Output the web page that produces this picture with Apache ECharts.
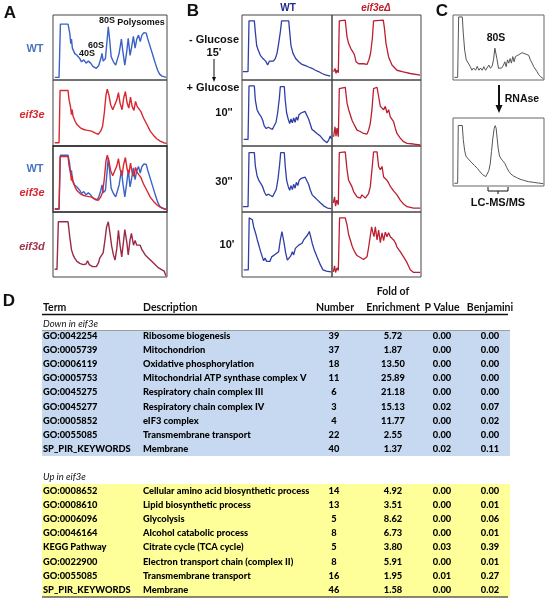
<!DOCTYPE html>
<html><head><meta charset="utf-8">
<script src="https://cdn.jsdelivr.net/npm/echarts@6/dist/echarts.min.js"></script>
<style>html,body{margin:0;padding:0;background:#fff}#c{width:549px;height:600px}</style>
</head><body><div id="c"></div>
<script>
// ---------- Panel A profiles (x: gradient position 0-100, y: A254 0-100) ----------
const A_WT = [[1.5,4],[5.3,4],[6.5,86],[13.2,86],[14.7,72],[15.6,56],[16.2,63],[17,49],[19,41],[21,38],[23.5,33],[25,28],[27,31],[29,26],[31,29],[33,26],[35,21],[38,18],[40,22],[42,33],[43,41],[44,29],[46,33],[47.5,62],[48.5,82],[49.7,62],[51,36],[53,28],[55,23],[56.5,23],[58,41],[60,63],[61.5,41],[63,23],[64.7,44],[66,64],[67.6,38],[69,51],[70.5,67],[72,49],[73.5,63],[75,69],[76.5,59],[78,69],[80,73],[81.8,72],[83,64],[85.3,51],[87.6,38],[89.7,26],[91.8,15],[93.5,9],[95.6,6],[99.4,4]];
const A_EIF3E = [[1.5,5],[5.3,5],[6.2,84],[13.2,84],[14.1,70],[15.3,60],[16.2,47.5],[16.8,55],[17.6,45],[19.4,37.5],[21,32.5],[24,27.5],[27,25],[29.4,24],[31,27],[33.8,22.5],[36.8,20],[39.7,17.5],[41.8,22.5],[43.5,30],[45,50],[46.5,77.5],[47.6,86],[49,77.5],[50.6,62.5],[52.4,55],[54,52.5],[56,70],[57.4,81],[58.8,65],[60.6,55],[62,72.5],[63.5,82.5],[65,65],[66.5,57.5],[68,74],[69.4,60],[71,54],[72.4,67.5],[73.8,60],[75.3,59],[77,52.5],[79.4,42.5],[82.4,32.5],[85.3,22.5],[88.2,16],[91,11],[94,7.5],[97,5],[99.7,4]];
const A_EIF3D = [[1.5,12],[3.5,12],[4.7,85],[13.2,85],[14.7,62],[16.2,42],[17.6,34],[19,29],[21,24],[23.5,21],[26.5,19],[29,20],[30.3,25],[31.8,19],[34.7,16],[38,16],[40,22],[41,29],[42.6,26],[44,37],[45.6,57],[47,77],[48.5,85],[50,67],[51.5,47],[53,34],[54.4,26],[56,44],[57.4,72],[58.8,49],[60.3,31],[61.8,54],[63,73],[64.7,54],[66,34],[67.6,57],[68.8,67],[70.6,49],[72,56],[73.5,49],[75,47],[76.5,49],[78,42],[80.9,34],[83.8,29],[86.8,24],[89.7,19],[92.6,14],[95.6,11],[97.6,9],[99,2]];

// ---------- Panel B profiles ----------
const B_WT_GLU0 = [[1,13],[6.7,13],[7.8,91],[13.7,91],[14.8,74],[16.3,53],[18,46],[20.4,38],[23.3,33],[26.3,29],[28.5,23],[30.4,29],[32.6,31],[34.8,29],[37,33],[38.9,41],[40.7,56],[42.6,74],[44,91],[51.9,91],[53,74],[54.4,53],[56.7,41],[59.6,33],[63,28],[66.7,24],[70.4,22],[74,20],[77.8,18],[81.5,15],[85,13],[88.9,10],[92.6,8],[98,6]];
const B_WT_10S = [[1.9,10],[6.7,10],[7.8,91],[13.7,91],[14.8,70],[16.7,55],[18.9,49],[21,45],[23,39],[24.8,30],[27,26.5],[29.3,28.5],[31.5,26],[33.7,25],[35.9,28],[37.8,36],[39.6,50],[41.5,72.5],[42.6,90],[47,90],[48,70],[49.6,50],[51.5,40],[53,34],[54.4,41],[56,35],[57.4,42.5],[59,36],[60.4,44],[61.9,39],[63.3,47.5],[65.6,50],[67.8,48.5],[70,52.5],[72.2,50],[74,41],[76,32.5],[77.8,25],[80.4,22.5],[83.3,19],[87,15],[90.7,9],[94.4,5],[96.3,9],[98.1,15],[99.3,11]];
const B_WT_30S = [[1,8],[6.7,8],[7.8,90],[13.7,90],[14.8,70],[16.7,55],[19,47],[21,43],[23,38],[25,30],[27,25],[29.5,27],[31.5,24],[34,23],[36,26],[38,34],[40,50],[41.8,72],[43,90],[47,90],[48,70],[49.6,48],[51.5,38],[53,33],[54.4,40],[56,34],[57.4,42],[59,36],[60.4,45],[62,40],[63.5,48],[66,51],[68,50],[70,53],[72,50],[74,42],[76,33],[78,26],[81,22],[84,18],[87,14],[91,9],[95,6],[99,5]];
const B_WT_10M = [[1.9,11],[7,11],[8,91],[10,92],[11.5,88],[13,77],[15.2,67],[17,57],[18.9,48],[20.7,39],[22.6,31],[24,25],[25.6,29],[27.4,24],[29.3,27],[31,24],[33,31],[34.8,28],[37,35],[38.9,38],[40.7,39],[42.6,57],[44.4,70],[45.6,72],[46.7,53],[48.5,37],[50.4,26],[52.2,25],[54,32],[56,39],[57.4,34],[59.3,44],[61,41],[63,49],[64.8,46],[66.7,52],[68.5,57],[70.7,60],[73,65],[74.8,70],[76.3,62],[78,52],[80.4,41],[83.3,31],[87,19],[90,11],[93.7,9],[98.9,8]];
const B_D_GLU0 = [[1.8,12.6],[3.4,17.8],[4.5,10.2],[5.6,15.2],[7.1,11.1],[8.2,91],[14.9,92],[16.9,66],[18.7,56],[21.3,48],[23.6,43],[25.4,38],[27,28],[29.9,25],[35.5,25],[39.3,24],[41.6,31.5],[43.4,41.5],[45.3,63.5],[46.7,91],[57.6,92],[58.8,81],[60.7,56],[63.6,35.5],[67.4,23],[73,15],[80,12.6],[88,10],[99,7.6]];
const B_D_10S = [[1.8,14],[3.4,29],[4.5,15],[5.6,27],[7.1,14],[8.2,87],[14.9,89],[16.9,65],[18.7,55],[20.6,52],[22.5,39],[24.3,34],[26.2,29],[28.1,24],[31.8,22],[35.5,19],[39.3,18],[41.1,24],[43,34],[44.9,55],[46.7,87],[50.6,89],[52.4,75],[54.3,60],[56.2,62],[58,55],[59.9,60],[61.8,50],[63.6,55],[65.5,44],[67.4,47],[69.2,37],[71.1,27],[73,19],[76.7,12],[80.4,6.5],[84.3,4],[91.7,3],[99.2,1.5]];
const B_D_30S = [[1.5,14],[2.9,23],[4,9],[5.4,18],[7.1,11],[8.2,90],[14.9,91],[16.9,64],[18.7,48],[20.6,43],[22.5,38],[24.3,31],[26.2,28],[28.1,23],[31.8,21],[33.7,26],[35.5,23],[37.4,21],[39.3,22],[41.1,28],[43,38],[44.9,64],[46.7,91],[50.6,91],[52.4,69],[54.3,64],[56.2,69],[58,53],[59.9,56],[61.8,48],[63.6,44],[65.5,39],[69.2,32],[73,26],[76.7,18],[80.4,12],[84.3,8],[91.7,6],[99.2,6]];
const B_D_10M = [[1.5,8],[2.9,17],[4,7],[5.6,14],[7.1,10],[8.5,91],[14.9,91],[16.9,80],[18.7,65],[20.6,57],[22.5,48],[24.3,42],[26.2,37],[28.1,33],[31.8,30],[35.5,27],[39.3,31],[41.1,45],[43,63],[44.5,77],[45.8,69],[47.2,62],[48.7,77],[50.6,57],[52.4,72],[54.3,53],[56.2,68],[58,56],[59.9,69],[61.8,62],[63.6,68],[65.5,62],[67.4,65],[69.2,57],[71.1,53],[73,46],[76.7,39],[80.4,31],[84.3,22],[88,11],[91.7,7],[99.2,7]];

// ---------- Panel C profiles ----------
const C_BEFORE = [[1.5,4],[5.1,4],[6.2,97],[10.2,97],[11.3,72],[12.8,46],[14.6,31],[16.8,26],[19,20.5],[20.8,15],[22.6,18.5],[24.8,15],[26.6,21],[28.5,15],[30.3,18.5],[32.1,15],[33.9,20.5],[35.8,15],[37.6,18],[39.4,23],[41.2,18],[43,21.5],[44.5,31],[46,49],[47,52],[48.2,33],[50,18],[51.8,15],[53.6,18.5],[55.5,23],[57,28],[58.4,20.5],[59.9,31],[61.3,26],[62.8,33],[64.2,26],[65.7,36],[67.2,28],[68.6,36],[70.4,33],[72.3,39],[74.1,36],[75.9,42],[77.7,39],[79.6,40],[81.4,42],[83.2,38],[85,31],[86.9,26],[88.7,20.5],[90.5,17.5],[92.3,13],[94.2,8],[96.4,5],[99.3,2]];
const C_RNASE = [[1.5,4],[5.1,4],[5.8,89],[10.2,89],[11.3,68],[12.8,52],[14.2,44],[16,41],[17.9,38.5],[19.7,35.5],[21.5,33.5],[23.4,30.5],[25.2,28.5],[27,25.5],[28.8,22.5],[30.7,19.7],[32.5,16.7],[34.3,14.3],[36.1,13.8],[38,16.7],[39.4,22.7],[40.9,32.5],[42.3,50.7],[43.8,70.4],[45.3,85],[46.4,88.7],[47.4,85],[48.5,70.4],[49.6,55.7],[51.1,44.3],[52.9,40],[54.7,37],[56.9,33.5],[59.1,27],[61.3,21.7],[63.5,17.7],[66.4,14.8],[70,12.3],[73.7,9.9],[77.4,8.4],[82.8,6.4],[88.3,5.4],[93.8,4.4],[99.3,3.4]];

// ---------- Panel D table ----------
const headers = ['Term','Description','Number','Enrichment','P Value','Benjamini'];
const downTerms = ['GO:0042254','GO:0005739','GO:0006119','GO:0005753','GO:0045275','GO:0045277','GO:0005852','GO:0055085','SP_PIR_KEYWORDS'];
const downDesc = ['Ribosome biogenesis','Mitochondrion','Oxidative phosphorylation','Mitochondrial ATP synthase complex V','Respiratory chain complex III','Respiratory chain complex IV','eIF3 complex','Transmembrane transport','Membrane'];
const downNum = [39,37,18,11,6,3,4,22,40];
const downFold = [5.72,1.87,13.50,25.89,21.18,15.13,11.77,2.55,1.37];
const downP = [0.00,0.00,0.00,0.00,0.00,0.02,0.00,0.00,0.02];
const downBenj = [0.00,0.00,0.00,0.00,0.00,0.07,0.02,0.00,0.11];
const upTerms = ['GO:0008652','GO:0008610','GO:0006096','GO:0046164','KEGG Pathway','GO:0022900','GO:0055085','SP_PIR_KEYWORDS'];
const upDesc = ['Cellular amino acid biosynthetic process','Lipid biosynthetic process','Glycolysis','Alcohol catabolic process','Citrate cycle (TCA cycle)','Electron transport chain (complex II)','Transmembrane transport','Membrane'];
const upNum = [14,13,5,8,5,8,16,46];
const upFold = [4.92,3.51,8.62,6.73,3.80,5.91,1.95,1.58];
const upP = [0.00,0.00,0.00,0.00,0.03,0.00,0.01,0.00];
const upBenj = [0.00,0.01,0.06,0.01,0.39,0.01,0.27,0.02];

// ---------- layout ----------
const chart = echarts.init(document.getElementById('c'));
const SANS = 'Liberation Sans, Arial, sans-serif';
const TF = 'Lato, sans-serif';
const rowsY = [[15,65],[80,66],[146,66],[212,65]];
const grids = [], xAxes = [], yAxes = [], series = [];
function addGrid(left, top, width, height, border, bw) {
  const i = grids.length;
  grids.push({left, top, width, height, show: true, borderColor: border || '#444', borderWidth: bw || 1, backgroundColor: 'transparent'});
  xAxes.push({type: 'value', gridIndex: i, min: 0, max: 100, show: false});
  yAxes.push({type: 'value', gridIndex: i, min: 0, max: 100, show: false});
  return i;
}
function addLine(gi, data, color, w) {
  series.push({type: 'line', xAxisIndex: gi, yAxisIndex: gi, data, showSymbol: false, symbol: 'none',
    lineStyle: {color, width: w || 1.4}, silent: true, animation: false, z: 3});
}
const BLUE_A = '#3b62c8', RED_A = '#d9272e', MAROON = '#9a2a45', BLUE_B = '#2f3ea6', RED_B = '#bc1f30', GRAY = '#555';
// A
let g;
g = addGrid(53, rowsY[0][0], 114, rowsY[0][1]); addLine(g, A_WT, BLUE_A);
g = addGrid(53, rowsY[1][0], 114, rowsY[1][1]); addLine(g, A_EIF3E, RED_A);
g = addGrid(53, rowsY[2][0], 114, rowsY[2][1], '#222', 1.4); addLine(g, A_WT, BLUE_A); addLine(g, A_EIF3E, RED_A);
g = addGrid(53, rowsY[3][0], 114, rowsY[3][1]); addLine(g, A_EIF3D, MAROON);
// B
const bWT = [B_WT_GLU0, B_WT_10S, B_WT_30S, B_WT_10M];
const bD = [B_D_GLU0, B_D_10S, B_D_30S, B_D_10M];
for (let r = 0; r < 4; r++) {
  g = addGrid(242, rowsY[r][0], 90, rowsY[r][1]); addLine(g, bWT[r], BLUE_B, 1.3);
  g = addGrid(332, rowsY[r][0], 89, rowsY[r][1]); addLine(g, bD[r], RED_B, 1.3);
}
// C
g = addGrid(453, 15, 91, 65, '#666'); addLine(g, C_BEFORE, GRAY, 1);
g = addGrid(453, 118, 91, 68, '#666'); addLine(g, C_RNASE, GRAY, 1);

// ---------- graphics ----------
const gr = [];
function txt(x, y, text, o) {
  o = o || {};
  gr.push({type: 'text', x, y, silent: true, z: 10, style: {text, fill: o.fill || '#111',
    fontFamily: o.family || SANS, fontSize: o.size || 10, fontWeight: o.weight || 'bold', fontStyle: o.style || 'normal',
    align: o.align || 'center', verticalAlign: 'middle'}});
}
function line(x1, y1, x2, y2, stroke, w) {
  gr.push({type: 'line', silent: true, z: 9, shape: {x1, y1, x2, y2}, style: {stroke: stroke || '#111', lineWidth: w || 1}});
}
function tri(x, y, w, h) {
  gr.push({type: 'polygon', silent: true, z: 9, shape: {points: [[x - w / 2, y - h], [x + w / 2, y - h], [x, y]]}, style: {fill: '#111'}});
}
// panel letters
txt(10, 13, 'A', {size: 17}); txt(193, 11, 'B', {size: 17}); txt(442, 11, 'C', {size: 17}); txt(9, 301, 'D', {size: 17});
// A labels
txt(35, 49, 'WT', {size: 11, fill: '#4a74c0'});
txt(32, 115, 'eif3e', {size: 11, fill: '#d9272e', style: 'italic'});
txt(35, 169, 'WT', {size: 11, fill: '#4a74c0'});
txt(32, 193, 'eif3e', {size: 11, fill: '#d9272e', style: 'italic'});
txt(32, 247, 'eif3d', {size: 11, fill: '#a0364d', style: 'italic'});
txt(107, 21, '80S', {size: 9}); txt(141, 23, 'Polysomes', {size: 9});
txt(96, 46, '60S', {size: 9}); txt(87, 54, '40S', {size: 9});
// B labels
txt(288, 8, 'WT', {size: 10, fill: '#1f2a8c'});
txt(376, 8, 'eif3e\u0394', {size: 10, fill: '#c0202a', style: 'italic'});
txt(214, 40, '- Glucose', {size: 11}); txt(214, 53, "15'", {size: 11});
line(214, 59, 214, 78, '#111', 1); tri(214, 82, 4, 5);
txt(213, 88, '+ Glucose', {size: 11});
txt(224, 113, "10''", {size: 11}); txt(224, 182, "30''", {size: 11}); txt(227, 245, "10'", {size: 11});
// C labels
txt(496, 38, '80S', {size: 10.5});
line(499, 85, 499, 106, '#111', 2); tri(499, 113, 7, 8);
txt(522, 99, 'RNAse', {size: 10.5});
line(488, 187, 488, 191, '#111', 1); line(488, 191, 508, 191, '#111', 1); line(508, 187, 508, 191, '#111', 1); line(498, 191, 498, 194, '#111', 1);
txt(498, 203, 'LC-MS/MS', {size: 11});

// table
const TL = 42, TR = 510;
const colX = [43, 143, 334, 393, 442, 490];
const colAlign = ['left', 'left', 'center', 'center', 'center', 'center'];
const rowH = 14.12;
function rect(x, y, w, h, fill) {
  gr.push({type: 'rect', silent: true, z: 1, shape: {x, y, width: w, height: h}, style: {fill}});
}
function tableBlock(y0, terms, desc, num, fold, p, benj, bg, bgTop, bgBottom) {
  rect(TL, bgTop, TR - TL, bgBottom - bgTop, bg);
  for (let i = 0; i < terms.length; i++) {
    const y = y0 + i * rowH;
    const vals = [terms[i], desc[i], String(num[i]), fold[i].toFixed(2), p[i].toFixed(2), benj[i].toFixed(2)];
    vals.forEach((v, c) => txt(colX[c], y, v, {family: TF, size: 9.3, weight: 900, align: colAlign[c], fill: '#000'}));
  }
}
txt(393, 292, 'Fold of', {family: TF, size: 10.5});
headers.forEach((h, c) => txt(c < 2 ? colX[c] : (c === 2 ? 335 : colX[c]), 308, h, {family: TF, size: 10.5, align: colAlign[c]}));
line(TL, 314.5, TR - 2, 314.5, '#111', 1.5);
txt(43, 324, 'Down in eif3e', {family: TF, size: 9.5, weight: 'normal', style: 'italic', align: 'left'});
line(TL, 330.5, TR, 330.5, '#888', 0.8);
tableBlock(336, downTerms, downDesc, downNum, downFold, downP, downBenj, '#c6d9f0', 331, 456);
txt(43, 477, 'Up in eif3e', {family: TF, size: 9.5, weight: 'normal', style: 'italic', align: 'left'});
tableBlock(491, upTerms, upDesc, upNum, upFold, upP, upBenj, '#ffff99', 484, 597);
line(TL, 597, TR - 2, 597, '#111', 1);

chart.setOption({
  animation: false,
  grid: grids, xAxis: xAxes, yAxis: yAxes, series,
  graphic: gr
});
</script></body></html>
